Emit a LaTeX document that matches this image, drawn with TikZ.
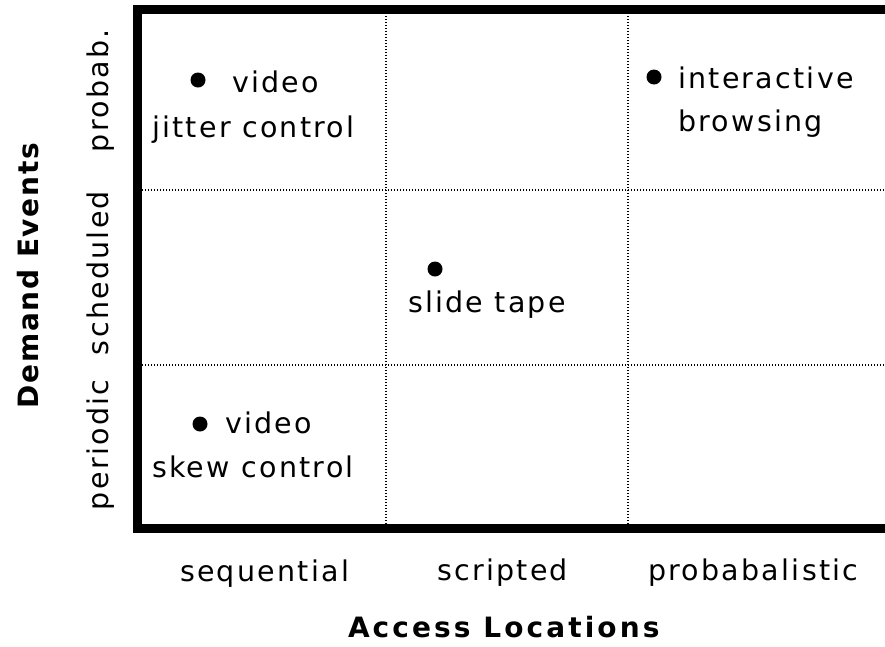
\documentclass[tikz,border=0pt]{standalone}
\usepackage{fontspec}
\setmainfont{DejaVu Sans}
\newfontfamily\cellfont{DejaVu Sans}[LetterSpace=8]
\newfontfamily\axisfont{DejaVu Sans}[LetterSpace=11]
\newfontfamily\sideaxisfont{DejaVu Sans}[LetterSpace=6]
\begin{document}
\begin{tikzpicture}[x=1pt,y=-1pt,
  frame/.style={line width=9pt,line join=miter},
  grid/.style={line width=1.4pt,dash pattern=on 1.4pt off 1.6pt},
  txt/.style={inner sep=0pt,outer sep=0pt,anchor=base west,
    font=\cellfont\fontsize{28.5}{30}\selectfont},
  title/.style={inner sep=0pt,outer sep=0pt,anchor=base west,
    font=\axisfont\bfseries\fontsize{28}{30}\selectfont},
  sidetitle/.style={title,font=\sideaxisfont\bfseries\fontsize{28}{30}\selectfont},
  bullet/.style={circle,fill=black,inner sep=0pt,minimum size=15pt}]
\useasboundingbox (0,0) rectangle (885,646);
\clip (0,0) rectangle (885,646);

% grid lines between the cells
\draw[grid] (386,13) -- (386,524);
\draw[grid] (628,13) -- (628,524);
\draw[grid] (142,190) -- (885,190);
\draw[grid] (142,365) -- (885,365);

% heavy frame, open to the right
\draw[frame] (900,9) -- (137.5,9) -- (137.5,528) -- (900,528);

% cell entries
\node[bullet] (b1) at (198,80) {};
\node[txt] (t1a) at (232,92) {video};
\node[txt] (t1b) at (152,137) {jitter control};

\node[bullet] (b2) at (654,77) {};
\node[txt] (t2a) at (678,88) {interactive};
\node[txt] (t2b) at (678,131) {browsing};

\node[bullet] (b3) at (435,269) {};
\node[txt] (t3) at (408,312) {slide tape};

\node[bullet] (b4) at (200,424) {};
\node[txt] (t4a) at (225,433) {video};
\node[txt] (t4b) at (152,477) {skew control};

% column labels
\node[txt] (c1) at (180,581) {sequential};
\node[txt] (c2) at (437,580) {scripted};
\node[txt] (c3) at (648,580) {probabalistic};
\node[title] (cx) at (348,637) {Access Locations};

% row labels
\node[txt,rotate=90] (r1) at (108,510) {periodic};
\node[txt,rotate=90] (r2) at (108,355) {scheduled};
\node[txt,rotate=90] (r3) at (108,152) {probab.};
\node[sidetitle,rotate=90] (ry) at (38,408) {Demand Events};
\end{tikzpicture}
\end{document}
